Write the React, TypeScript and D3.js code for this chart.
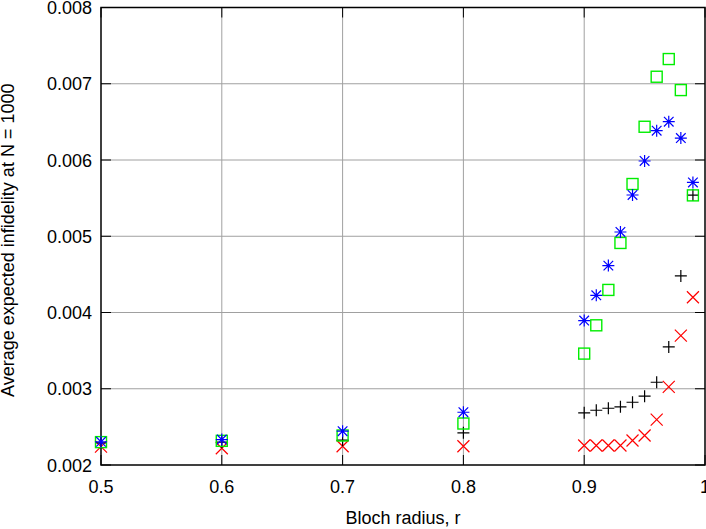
import React from 'react';
import * as d3 from 'd3';

// Bloch radius values
const radii = [0.5, 0.6, 0.7, 0.8, 0.9, 0.91, 0.92, 0.93, 0.94, 0.95, 0.96, 0.97, 0.98, 0.99];

// four series
const redCross = [0.00224, 0.00222, 0.002246, 0.002246, 0.002256, 0.002256, 0.002256, 0.002256, 0.002321, 0.002387, 0.002596, 0.003025, 0.003697, 0.0042];
const blackPlus = [0.00229, 0.0023, 0.002325, 0.002422, 0.002684, 0.002718, 0.002744, 0.002763, 0.002823, 0.002902, 0.003085, 0.003549, 0.00448, 0.00554];
const greenSquare = [0.0023, 0.002317, 0.002387, 0.002544, 0.003461, 0.003832, 0.004296, 0.004912, 0.005685, 0.006436, 0.007092, 0.007324, 0.006917, 0.005536];
const blueStar = [0.002304, 0.002334, 0.002443, 0.002692, 0.003894, 0.004225, 0.004615, 0.005056, 0.005541, 0.005987, 0.006384, 0.006502, 0.006288, 0.005706];

const xTicks = [0.5, 0.6, 0.7, 0.8, 0.9, 1];
const yTicks = [0.002, 0.003, 0.004, 0.005, 0.006, 0.007, 0.008];

const width = 706;
const height = 529;
const left = 101;
const right = 705;
const top = 7.5;
const bottom = 465;
const font = '"Liberation Sans", Arial, sans-serif';

const x = d3.scaleLinear().domain([0.5, 1]).range([left, right]);
const y = d3.scaleLinear().domain([0.002, 0.008]).range([bottom, top]);

const S = 6; // marker half size

const Marker = ({ kind, cx, cy }: { kind: string; cx: number; cy: number }) => {
  if (kind === 'cross') {
    return (
      <path d={`M${cx - S},${cy - S}L${cx + S},${cy + S}M${cx - S},${cy + S}L${cx + S},${cy - S}`} stroke="#ff0000" strokeWidth={1.2} fill="none" />
    );
  }
  if (kind === 'plus') {
    return <path d={`M${cx - S},${cy}L${cx + S},${cy}M${cx},${cy - S}L${cx},${cy + S}`} stroke="#000" strokeWidth={1.2} fill="none" />;
  }
  if (kind === 'square') {
    return <rect x={cx - 5.5} y={cy - 5.5} width={11} height={11} stroke="#00ee00" strokeWidth={1.4} fill="none" />;
  }
  const d = S * 0.8;
  return (
    <path
      d={`M${cx - S},${cy}L${cx + S},${cy}M${cx},${cy - S}L${cx},${cy + S}M${cx - d},${cy - d}L${cx + d},${cy + d}M${cx - d},${cy + d}L${cx + d},${cy - d}`}
      stroke="#0000ff"
      strokeWidth={1.2}
      fill="none"
    />
  );
};

const series = [
  { kind: 'cross', values: redCross },
  { kind: 'plus', values: blackPlus },
  { kind: 'square', values: greenSquare },
  { kind: 'star', values: blueStar },
];

const App = () => {
  const tickLen = 10;
  return (
    <svg width={width} height={height} style={{ position: 'absolute', left: 0, top: 0, background: '#fff' }}>
      {/* grid */}
      {xTicks.slice(1, -1).map((t) => (
        <line key={'gx' + t} x1={x(t)} x2={x(t)} y1={top} y2={bottom} stroke="#a0a0a0" strokeWidth={1} />
      ))}
      {yTicks.slice(1, -1).map((t) => (
        <line key={'gy' + t} x1={left} x2={right} y1={y(t)} y2={y(t)} stroke="#a0a0a0" strokeWidth={1} />
      ))}
      {/* ticks, inward on all sides */}
      {xTicks.map((t) => (
        <g key={'tx' + t}>
          <line x1={x(t)} x2={x(t)} y1={bottom} y2={bottom - tickLen} stroke="#000" />
          <line x1={x(t)} x2={x(t)} y1={top} y2={top + tickLen} stroke="#000" />
          <text x={x(t)} y={bottom + 28} textAnchor="middle" fontFamily={font} fontSize={18}>
            {t === 1 ? '1' : d3.format('.1f')(t)}
          </text>
        </g>
      ))}
      {yTicks.map((t) => (
        <g key={'ty' + t}>
          <line x1={left} x2={left + tickLen} y1={y(t)} y2={y(t)} stroke="#000" />
          <line x1={right} x2={right - tickLen} y1={y(t)} y2={y(t)} stroke="#000" />
          <text x={left - 9} y={y(t) + 6.5} textAnchor="end" fontFamily={font} fontSize={18}>
            {d3.format('.3f')(t)}
          </text>
        </g>
      ))}
      {/* frame */}
      <rect x={left} y={top} width={right - left} height={bottom - top} fill="none" stroke="#000" strokeWidth={1.5} />
      {/* data */}
      {series.map((s) => (
        <g key={s.kind}>
          {s.values.map((v, i) => (
            <Marker key={i} kind={s.kind} cx={x(radii[i])} cy={y(v)} />
          ))}
        </g>
      ))}
      {/* axis titles */}
      <text x={(left + right) / 2} y={524} textAnchor="middle" fontFamily={font} fontSize={18}>
        Bloch radius, r
      </text>
      <text transform={`translate(14,${(top + bottom) / 2 + 4}) rotate(-90)`} textAnchor="middle" fontFamily={font} fontSize={18}>
        Average expected infidelity at N = 1000
      </text>
    </svg>
  );
};

export default App;
